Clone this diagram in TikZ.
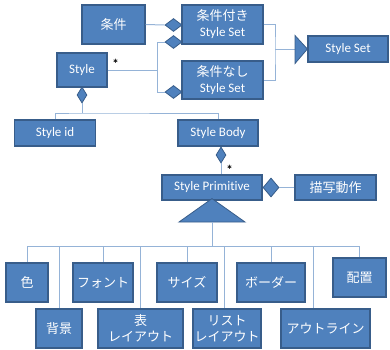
\documentclass[tikz,border=0pt]{standalone}
\usepackage{fontspec}
\setmainfont{Carlito}[Ligatures=NoCommon]
\newfontfamily\jp{Noto Sans CJK JP}
\usepackage{tikz}
\usetikzlibrary{shapes.geometric}

\definecolor{boxblue}{HTML}{4F81BD}
\definecolor{boxedge}{HTML}{385D8A}
\definecolor{linkblue}{HTML}{95B3D7}

\tikzset{
  box/.style={draw=boxedge, line width=1.2pt, fill=boxblue, text=white,
    align=center, inner sep=0pt, font=\fontsize{13}{16}\selectfont},
  link/.style={draw=linkblue, line width=1pt},
  agg/.style={diamond, draw=boxedge, fill=boxblue, line width=0.8pt, inner sep=0pt},
  tri/.style={draw=boxedge, fill=boxblue, line width=0.8pt},
  mult/.style={inner sep=0pt, font=\fontsize{13}{13}\selectfont\bfseries}
}

\begin{document}
\begin{tikzpicture}[x=1pt,y=-1pt]
        \useasboundingbox (0,0) rectangle (390,349);

        \node[box, minimum width=63, minimum height=39] (joken) at (113.5,24.5) {\jp 条件};
        \node[box, minimum width=81, minimum height=39] (tsuki) at (222.5,24.5) {{\jp 条件付き}\\Style Set};
        \node[box, minimum width=81, minimum height=38] (nashi) at (222.5,80) {{\jp 条件なし}\\Style Set};
        \node[box, minimum width=80, minimum height=26] (styleset) at (348,49) {Style Set};
        \node[box, minimum width=50, minimum height=34] (style) at (82,70) {Style};
        \node[box, minimum width=81, minimum height=26] (styleid) at (55,133) {Style id};
        \node[box, minimum width=80, minimum height=26] (stylebody) at (218,133) {Style Body};
        \node[box, minimum width=100, minimum height=25] (prim) at (212,187.5) {Style Primitive};
        \node[box, minimum width=81, minimum height=25] (byosha) at (335.5,187.5) {\jp 描写動作};

        \node[box, minimum width=42, minimum height=39] (iro) at (27,282.5) {\jp 色};
        \node[box, minimum width=46, minimum height=39] (haikei) at (59,328.5) {\jp 背景};
        \node[box, minimum width=60, minimum height=39] (font) at (103,282.5) {\jp フォント};
        \node[box, minimum width=85, minimum height=39] (hyo) at (140.5,328.5) {\jp 表\\\jp レイアウト};
        \node[box, minimum width=60, minimum height=39] (size) at (187,282.5) {\jp サイズ};
        \node[box, minimum width=68, minimum height=39] (list) at (227,328.5) {\jp リスト\\\jp レイアウト};
        \node[box, minimum width=68, minimum height=39] (border) at (271,282.5) {\jp ボーダー};
        \node[box, minimum width=89, minimum height=39] (outline) at (325.5,328.5) {\jp アウトライン};
        \node[box, minimum width=53, minimum height=39] (haichi) at (359.5,277.5) {\jp 配置};

        \node[agg, minimum width=17, minimum height=13] (d1) at (173.5,25) {};
        \node[agg, minimum width=17, minimum height=13] (d2) at (173.5,42) {};
        \node[agg, minimum width=17, minimum height=13] (d3) at (173.5,92) {};
        \node[agg, minimum width=10, minimum height=16] (d4) at (82,95) {};
        \node[agg, minimum width=10, minimum height=16] (d5) at (221,155) {};
        \node[agg, minimum width=16, minimum height=19] (d6) at (271,187.5) {};

        \node[mult] (star1) at (115.5,64) {*};
        \node[mult] (star2) at (229.5,170) {*};

        \coordinate (j1) at (157,92);
        \coordinate (j2) at (275,49);
        \coordinate (j3) at (82,113);
        \coordinate (tri1) at (295,49);
        \coordinate (tri2) at (212,222);
        \coordinate (bus) at (212,246);

        \draw[link] (joken.east) -- (d1.west);
        \draw[link] (d2.west) -| (j1) -- (d3.west);
        \draw[link] (style.east) -- (style.east -| j1);
        \draw[link] (tsuki.east) -| (j2) |- (nashi.east);
        \draw[link] (j2) -- (tri1);
        \filldraw[tri] (tri1) ++(0,-13.5) -- ++(0,28) -- (styleset.west) -- cycle;

        \draw[link] (d4.south) -- (j3);
        \draw[link] (styleid.north) |- (j3) -| (stylebody.north);
        \draw[link] (d5.south) -- (d5.south |- prim.north);
        \draw[link] (d6.east) -- (byosha.west);
        \filldraw[tri] (tri2) ++(-33,0) -- ++(66,0) -- ([yshift=2]prim.south) -- cycle;

        \draw[link] (tri2) -- (bus);
        \draw[link] (iro.north |- bus) -- (haichi.north |- bus);
        \draw[link] (iro.north |- bus) -- (iro.north);
        \draw[link] (haikei.north |- bus) -- (haikei.north);
        \draw[link] (font.north |- bus) -- (font.north);
        \draw[link] (hyo.north |- bus) -- (hyo.north);
        \draw[link] (size.north |- bus) -- (size.north);
        \draw[link] ([xshift=-3]list.north |- bus) -- ([xshift=-3]list.north);
        \draw[link] (border.north |- bus) -- (border.north);
        \draw[link] ([xshift=-12.5]outline.north |- bus) -- ([xshift=-12.5]outline.north);
        \draw[link] (haichi.north |- bus) -- (haichi.north);
    \end{tikzpicture}
\end{document}
